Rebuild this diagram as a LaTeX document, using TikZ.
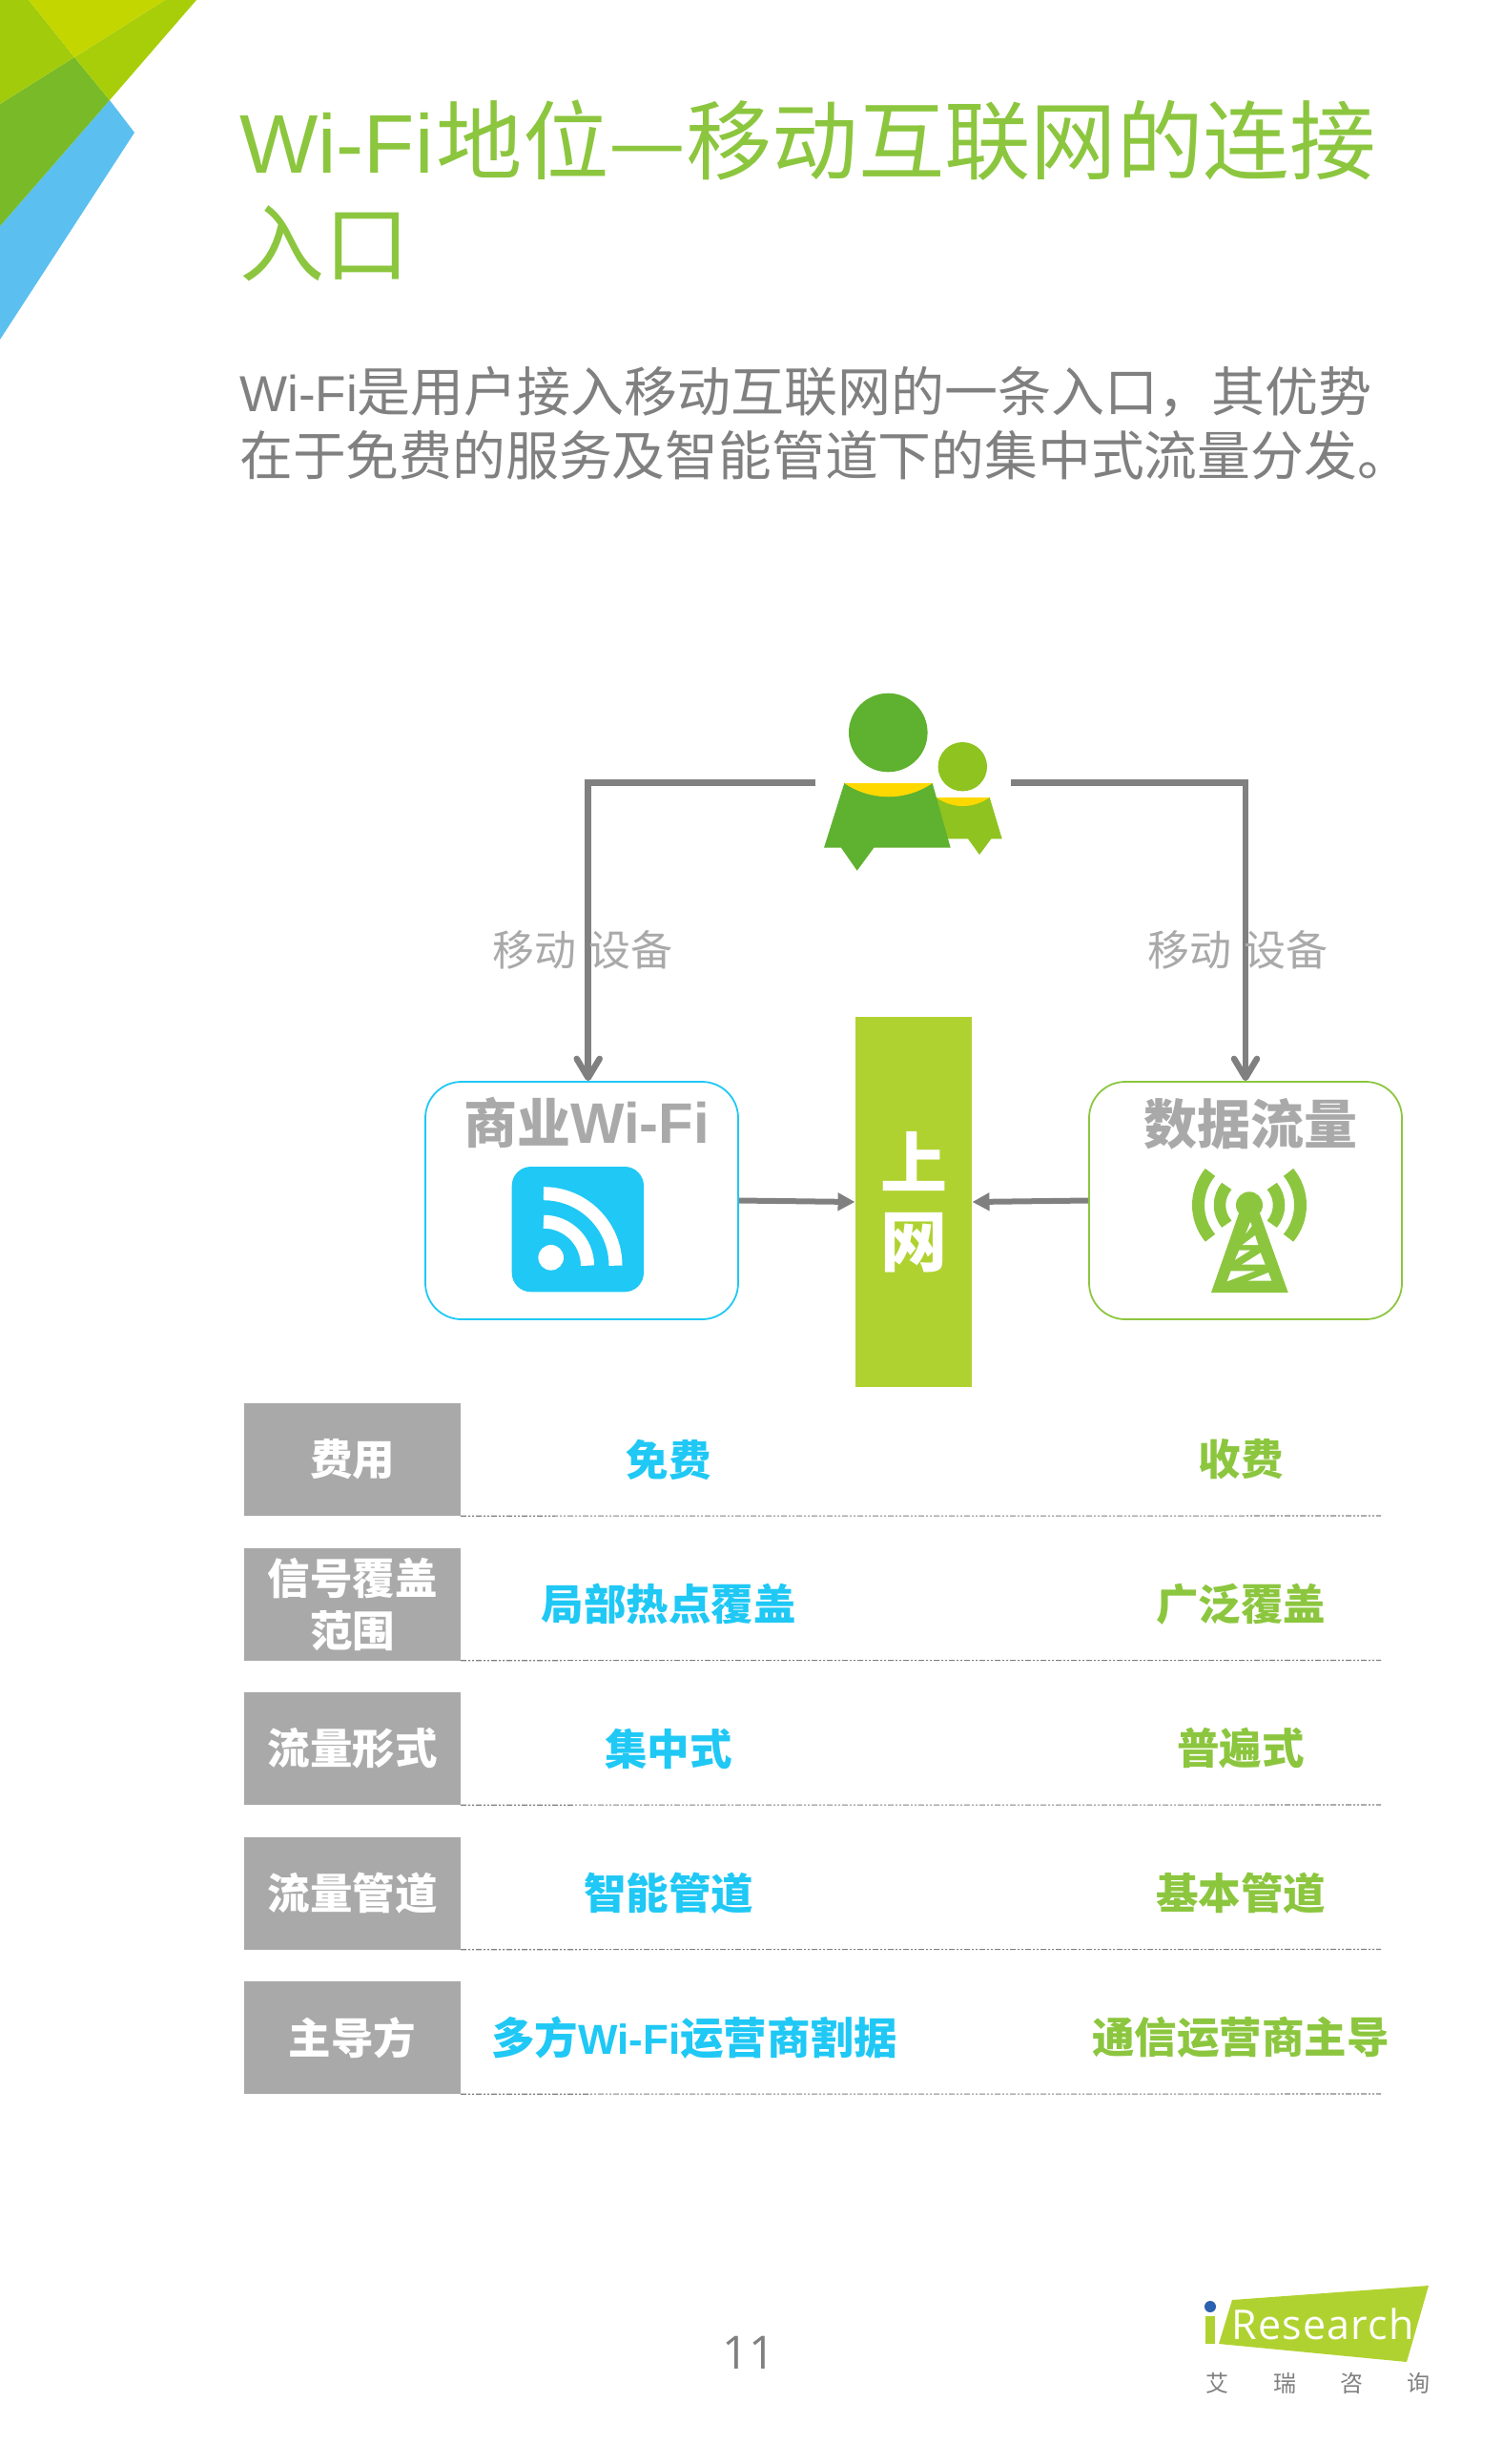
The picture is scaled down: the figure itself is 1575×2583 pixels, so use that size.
\documentclass[tikz,border=0pt]{standalone}
\usepackage{fontspec}
\setmainfont{Noto Sans CJK SC}
\newfontfamily\latinfont[Scale=0.965]{Liberation Sans}
\newfontfamily\logofont[LetterSpace=3]{Open Sans}
\newfontfamily\pagefont{Open Sans}
\usetikzlibrary{arrows.meta,positioning}
\definecolor{titlegreen}{HTML}{8CC63F}
\definecolor{wifiblue}{HTML}{1FC8F5}
\definecolor{cornerblue}{HTML}{5BBFF0}
\definecolor{cornerdark}{HTML}{78BA28}
\definecolor{cornerleft}{HTML}{A2CB0C}
\definecolor{cornerright}{HTML}{A8CE0A}
\definecolor{cornertop}{HTML}{C4D600}
\definecolor{bargreen}{HTML}{B0D230}
\definecolor{textgray}{HTML}{808080}
\definecolor{softgray}{HTML}{A9A9A9}
\definecolor{userdark}{HTML}{5FB130}
\definecolor{userlight}{HTML}{8FC31F}
\definecolor{usercollar}{HTML}{FFD800}
\definecolor{logoblue}{HTML}{2A62B0}
\def \wf {{\latinfont Wi-Fi}}
\newcommand{\fs}[1]{\fontsize{#1}{#1}\selectfont}

\begin{document}
\begin{tikzpicture}[x=1pt,y=1pt,
      textline/.style={inner sep=0pt,anchor=base west},
      deviceline/.style={draw=textgray,line width=6.5pt,
        -{Straight Barb[length=20pt,width=24pt,round]}},
      feedline/.style={draw=textgray,line width=6pt,
        -{Triangle[length=18pt,width=18pt]}},
      sourcebox/.style={draw,line width=1.8pt,rounded corners=38pt,
        minimum width=328pt,minimum height=249pt},
      devicetext/.style={text=softgray,inner sep=0pt,font=\fs{44}},
      boxtitle/.style={text=softgray,inner sep=0pt,font=\fs{56}\bfseries},
      rowlabel/.style={fill=softgray,text=white,align=center,inner sep=0pt,
        minimum width=227pt,minimum height=118pt,font=\bfseries\fontsize{44.5}{55}\selectfont},
      rowtext/.style={inner sep=0pt,font=\fs{44.5}\bfseries}]
      \useasboundingbox (0,-2583) rectangle (1575,0);
      \fill[cornerblue] (115,-105) -- (141,-139) -- (0,-356) -- (0,-237) -- cycle;
      \fill[cornerdark] (0,-109) -- (78,-60) -- (115,-105) -- (0,-237) -- cycle;
      \fill[cornerleft] (0,0) -- (30,0) -- (78,-60) -- (0,-109) -- cycle;
      \fill[cornerright] (173,0) -- (206,0) -- (115,-105) -- (78,-60) -- cycle;
      \fill[cornertop] (30,0) -- (173,0) -- (78,-60) -- cycle;

      \node[textline,text=titlegreen,font=\fs{90.4}] (title1) at (251,-181) {\wf\hspace{3pt}地位—移动互联网的连接};
      \node[textline,text=titlegreen,font=\fs{89}] (title2) at (251,-288) {入口};
      \node[textline,text=textgray,font=\fs{56}] (sub1) at (251,-431) {{\fs{55}\wf}是用户接入移动互联网的一条入口，其优势};
      \node[textline,text=textgray,font=\fs{55.8}] (sub2) at (251,-498) {在于免费的服务及智能管道下的集中式流量分发。};

      % users
      \fill[userlight] (981.7,-836) -- (1037.7,-836) -- (1050.7,-879.3) -- (1039.3,-879.3)
        -- (1027,-896) -- (1015,-879.3) -- (991.7,-879.3) -- cycle;
      \fill[usercollar] (981.7,-836) -- (1037.7,-836) .. controls (1020,-848) and (999,-848) .. cycle;
      \fill[userlight] (1009.3,-803.7) circle (25.7);
      \fill[userdark] (885.3,-821) -- (977.7,-821) -- (996.7,-888.7) -- (916.3,-888.7)
        -- (898.7,-912.7) -- (882,-888.7) -- (864,-888.7) -- cycle;
      \fill[usercollar] (885.3,-821) -- (977.7,-821) .. controls (950,-840) and (913,-840) .. cycle;
      \fill[userdark] (931.3,-768) circle (41.3);
      \coordinate (userleft) at (855,-820.5);
      \coordinate (userright) at (1060,-820.5);

      \node[sourcebox,draw=wifiblue] (wifi) at (610,-1258.5) {};
      \node[sourcebox,draw=titlegreen] (data) at (1306,-1258.5) {};
      \node[fill=bargreen,minimum width=122.5pt,minimum height=387.5pt,inner sep=0pt] (bar) at (958,-1260) {};
      \node[text=white,align=center,font=\bfseries\fontsize{70}{82}\selectfont,inner sep=0pt] (online) at (bar) {上\\网};

      \draw[deviceline] (userleft) -| ([xshift=6.7pt]wifi.north);
      \draw[deviceline] (userright) -| (data.north);
      \draw[feedline] (wifi.east) -- (bar.west);
      \draw[feedline] (data.west) -- (bar.east);

      \node[devicetext] (mobileleft) at (611,-996) {移动\hspace{13pt}设备};
      \node[devicetext] (mobileright) at (1298,-996) {移动\hspace{13pt}设备};
      \node[boxtitle] (wifititle) at (615,-1177) {商业{\latinfont\fs{62}Wi-Fi}};
      \node[boxtitle] (datatitle) at (1311,-1178) {数据流量};

      % wifi icon
      \fill[wifiblue,rounded corners=20pt] (536.7,-1354.3) rectangle (675,-1223);
      \coordinate (wifio) at (570,-1326.7);
      \fill[white] (577.7,-1318.3) circle (13.3);
      \draw[white,line width=14pt] ([shift={(90:75.5)}]wifio) arc[start angle=90,end angle=0,radius=75.5];
      \draw[white,line width=14pt] ([shift={(90:46)}]wifio) arc[start angle=90,end angle=0,radius=46];

      % tower icon
      \coordinate (towero) at (1310,-1263.3);
      \fill[titlegreen] (towero) circle (14);
      \foreach \a in {140,-40}{
        \draw[titlegreen,line width=13pt] ([shift={(\a:53.5)}]towero) arc[start angle=\a,delta angle=80,radius=53.5];
        \draw[titlegreen,line width=12.5pt] ([shift={(\a:31)}]towero) arc[start angle=\a,delta angle=80,radius=31];
      }
      \fill[titlegreen] (1299,-1272) -- (1321,-1272) -- (1350.7,-1355) -- (1270,-1355) -- cycle;
      \fill[white] (1311,-1281) -- (1312.7,-1285) -- (1306.3,-1293.3) -- cycle;
      \fill[white] (1316,-1295) -- (1319.3,-1305) -- (1302.7,-1305) -- cycle;
      \fill[white] (1299.3,-1310.7) -- (1311,-1310.7) -- (1295,-1320.7) -- cycle;
      \fill[white] (1321.7,-1313.3) -- (1326.7,-1325.7) -- (1302,-1325.7) -- cycle;
      \fill[white] (1290.7,-1332.3) -- (1316,-1332.3) -- (1286.7,-1343.3) -- cycle;
      \fill[white] (1330,-1334) -- (1333.3,-1342.7) -- (1308.7,-1342.7) -- cycle;

      % rows
      \foreach \i/\rowy/\rowname/\freetext/\paidtext/\freex in {
        1/-1530/费用/免费/收费/701,
        2/-1681.5/{信号覆盖\\范围}/局部热点覆盖/广泛覆盖/701,
        3/-1833/流量形式/集中式/普遍式/701,
        4/-1984.5/流量管道/智能管道/基本管道/701,
        5/-2136/主导方/{\fs{45.5}多方\wf 运营商割据}/通信运营商主导/728}{
        \node[rowlabel] (label\i) at (369.5,\rowy) {\rowname};
        \coordinate (rowend\i) at (1448,\rowy-59);
        \draw[textgray,line width=1.1pt,dash pattern=on 6pt off 2pt on 2pt off 2pt on 2pt off 2pt] (label\i.south east) -- (rowend\i);
        \node[rowtext,text=wifiblue] (free\i) at (\freex,\rowy) {\freetext};
        \node[rowtext,text=titlegreen] (paid\i) at (1301,\rowy) {\paidtext};
      }

      \node[text=textgray,inner sep=0pt,font=\pagefont\fs{48}] (page) at (785,-2466) {11};

      % logo
      \fill[bargreen] (1292,-2411) -- (1498,-2396) -- (1475,-2476) -- (1278,-2457) -- cycle;
      \fill[bargreen] (1264,-2457) rectangle (1274,-2428);
      \fill[logoblue] (1269,-2418) circle (6);
      \node[textline,text=white,font=\logofont\fs{43}] (logo) at (1291,-2452) {Research};
      \foreach \x/\ch in {1276/艾,1347/瑞,1417/咨,1487/询}{
        \node[text=textgray,inner sep=0pt,font=\fs{24}] (brand\ch) at (\x,-2498) {\ch};
      }
    \end{tikzpicture}
\end{document}
